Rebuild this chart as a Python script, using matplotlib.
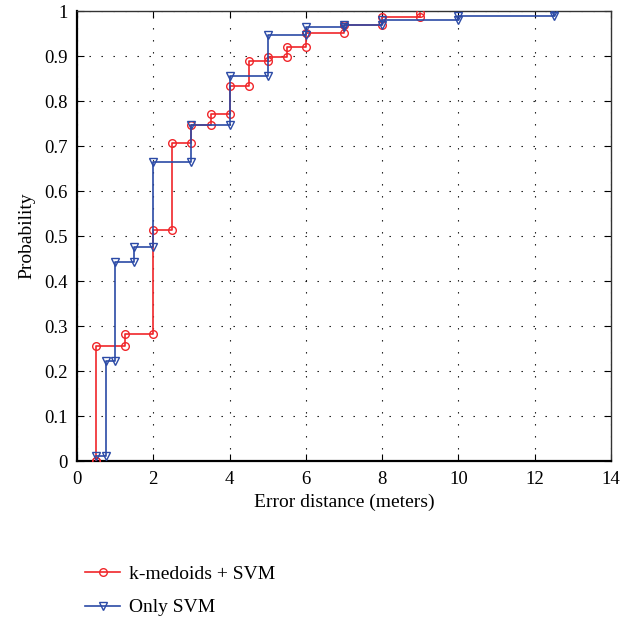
""" CDF of error distance """
import matplotlib
matplotlib.use("Agg")
import matplotlib.pyplot as plt

# k-medoids + SVM (stairs data)
km_x = [0.5, 0.5, 1.25, 2, 2.5, 3, 3.5, 4, 4.5, 5, 5.5, 6, 7, 8, 9]
km_y = [0, 0.256, 0.282, 0.513, 0.707, 0.746, 0.771, 0.833, 0.889, 0.897,
        0.921, 0.952, 0.970, 0.986, 0.996]

# Only SVM (stairs data)
svm_x = [0.5, 0.75, 1, 1.5, 2, 3, 4, 5, 6, 7, 8, 10, 12.5]
svm_y = [0.011, 0.222, 0.443, 0.476, 0.665, 0.746, 0.856, 0.947, 0.965,
         0.970, 0.981, 0.990, 0.997]

x_ticks = list(range(0, 15, 2))
y_ticks = [i / 10 for i in range(11)]
y_labels = ["0"] + ["%.1f" % v for v in y_ticks[1:-1]] + ["1"]


def stair_vertices(x, y):
    """ MATLAB-like stairs vertices """
    xs, ys = [x[0]], [y[0]]
    for i in range(1, len(x)):
        xs += [x[i], x[i]]
        ys += [y[i - 1], y[i]]
    return xs, ys


def main():
    """ function """
    plt.rcParams["font.family"] = ["Liberation Serif", "DejaVu Serif"]
    fig = plt.figure(figsize=(6.34, 6.18), dpi=100)
    ax = fig.add_axes([0.1215, 0.254, 0.8422, 0.7282])

    xs, ys = stair_vertices(km_x, km_y)
    ax.plot(xs, ys, color="#f0262a", lw=1.2, marker="o", ms=5.5,
            mfc="none", mew=1.0, label="k-medoids + SVM", zorder=3)
    xs, ys = stair_vertices(svm_x, svm_y)
    ax.plot(xs, ys, color="#2b4aa6", lw=1.2, marker="v", ms=6,
            mfc="none", mew=1.0, label="Only SVM", zorder=3)

    ax.set_xlim(0, 14)
    ax.set_ylim(0, 1)
    ax.set_xticks(x_ticks)
    ax.set_yticks(y_ticks)
    ax.set_yticklabels(y_labels)
    ax.tick_params(direction="in", top=True, right=True, length=5,
                   labelsize=13.5, pad=7)
    ax.grid(True, color="black", linestyle=(0, (1.2, 9.6)), lw=0.8)
    for side in ["left", "bottom"]:
        ax.spines[side].set_linewidth(1.6)
    for side in ["top", "right"]:
        ax.spines[side].set_linewidth(1.0)
        ax.spines[side].set_color("#333333")

    ax.set_xlabel("Error distance (meters)", fontsize=14, labelpad=4)
    ax.set_ylabel("Probability", fontsize=14, labelpad=6)

    fig.legend(loc="upper left", bbox_to_anchor=(0.107, 0.113),
               frameon=False, fontsize=14, handlelength=1.8,
               labelspacing=0.8, handletextpad=0.45)
    fig.savefig("out.png", dpi=100)


main()
